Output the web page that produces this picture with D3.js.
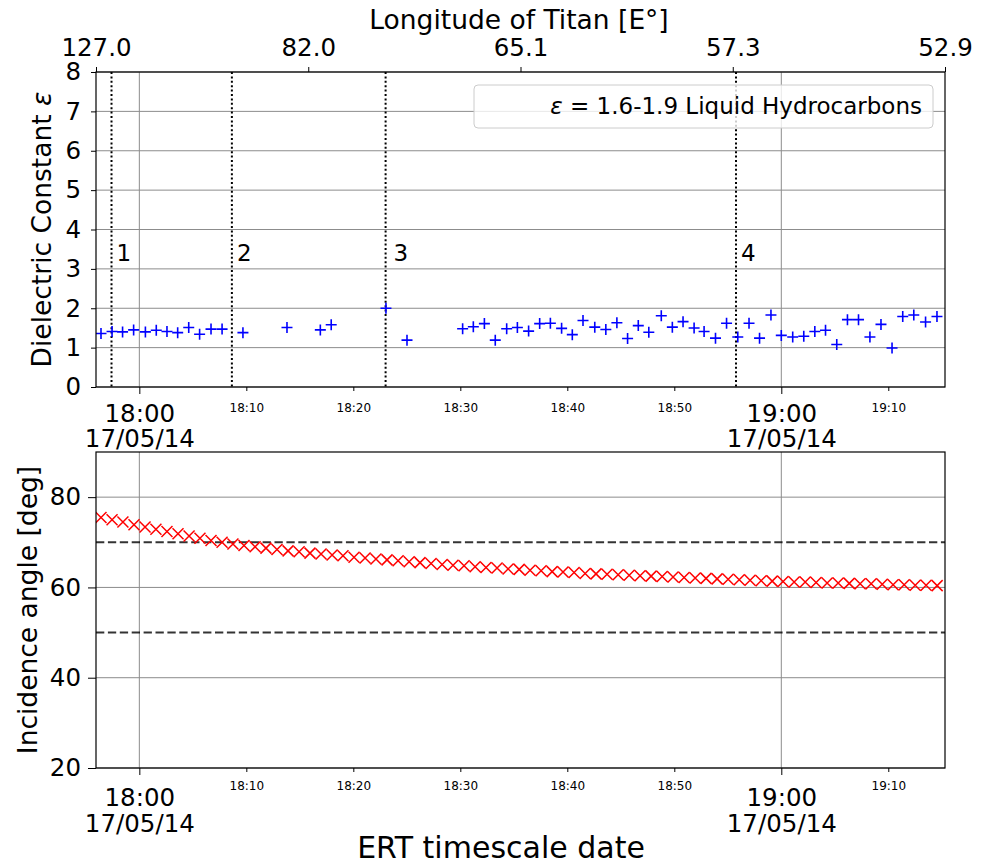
<!DOCTYPE html>
<html>
<head>
<meta charset="utf-8">
<script src="https://cdn.jsdelivr.net/npm/d3@7"></script>
<style>
  body { margin: 0; background: #fff; }
  text { font-family: "DejaVu Sans", sans-serif; fill: #000; }
</style>
</head>
<body>
<svg id="chart" width="986" height="864"></svg>
<script>
// ---- Observation data (ERT, 2014-05-17) ----
const day = "2014-05-17";

// Dielectric constant retrievals
const dielTimes = [
  "17:56:25","17:57:27","17:58:26","17:59:28","18:00:34","18:01:35","18:02:35","18:03:35",
  "18:04:37","18:05:38","18:06:42","18:07:44","18:09:41","18:13:48","18:16:55","18:17:56",
  "18:23:03","18:25:01","18:30:13","18:31:13","18:32:15","18:33:16","18:34:20","18:35:20",
  "18:36:23","18:37:25","18:38:25","18:39:28","18:40:28","18:41:28","18:42:34","18:43:36",
  "18:44:38","18:45:38","18:46:38","18:47:37","18:48:47","18:49:49","18:50:49","18:51:51",
  "18:52:47","18:53:51","18:54:53","18:55:56","18:56:59","18:57:58","18:59:02","19:00:00",
  "19:01:04","19:02:06","19:03:08","19:04:08","19:05:11","19:06:11","19:07:13","19:08:17",
  "19:09:19","19:10:21","19:11:21","19:12:23","19:13:29","19:14:33"
];
const dielValues = [
  1.36,1.41,1.40,1.45,1.40,1.44,1.41,1.38,
  1.51,1.34,1.47,1.47,1.38,1.51,1.45,1.58,
  2.00,1.19,1.48,1.53,1.61,1.19,1.48,1.51,
  1.42,1.61,1.62,1.49,1.33,1.69,1.52,1.46,
  1.63,1.23,1.56,1.39,1.81,1.52,1.66,1.50,
  1.41,1.24,1.62,1.27,1.62,1.24,1.83,1.31,
  1.27,1.29,1.41,1.44,1.08,1.71,1.71,1.27,
  1.59,0.99,1.79,1.83,1.65,1.79
];

// Incidence angle along the track
const incTimes = [
  "17:56:25","17:57:27","17:58:28","17:59:30","18:00:32","18:01:33","18:02:35","18:03:37",
  "18:04:39","18:05:40","18:06:42","18:07:44","18:08:45","18:09:47","18:10:49","18:11:50",
  "18:12:52","18:13:54","18:14:56","18:15:57","18:16:59","18:18:01","18:19:02","18:20:04",
  "18:21:06","18:22:07","18:23:09","18:24:11","18:25:13","18:26:14","18:27:16","18:28:18",
  "18:29:19","18:30:21","18:31:23","18:32:24","18:33:26","18:34:28","18:35:30","18:36:31",
  "18:37:33","18:38:35","18:39:36","18:40:38","18:41:40","18:42:41","18:43:43","18:44:45",
  "18:45:47","18:46:48","18:47:50","18:48:52","18:49:53","18:50:55","18:51:57","18:52:58",
  "18:54:00","18:55:02","18:56:04","18:57:05","18:58:07","18:59:09","19:00:10","19:01:12",
  "19:02:14","19:03:15","19:04:17","19:05:19","19:06:21","19:07:22","19:08:24","19:09:26",
  "19:10:27","19:11:29","19:12:31","19:13:32","19:14:34"
];
const incValues = [
  75.5,75.0,74.5,73.9,73.4,72.9,72.4,71.9,
  71.4,70.9,70.4,70.0,69.6,69.3,69.0,68.7,
  68.4,68.1,67.9,67.6,67.4,67.2,67.0,66.7,
  66.5,66.3,66.1,65.9,65.7,65.5,65.3,65.1,
  64.9,64.8,64.6,64.4,64.3,64.1,64.0,63.8,
  63.7,63.5,63.4,63.3,63.1,63.0,62.9,62.8,
  62.7,62.6,62.5,62.4,62.3,62.2,62.1,62.0,
  61.9,61.8,61.7,61.6,61.5,61.4,61.3,61.2,
  61.2,61.1,61.0,61.0,60.9,60.8,60.8,60.7,
  60.6,60.6,60.5,60.5,60.4
];

// Marked events along the track
const eventTimes = ["17:57:24","18:08:39","18:23:01","18:55:46"];
const eventLabels = ["1","2","3","4"];
const eventLabelLevel = 3.2;

// Axis ticks
const lonTickLabels = ["127.0","82.0","65.1","57.3","52.9"];
const majorTimes = ["18:00:00","19:00:00"];
const minorTimes = ["18:10:00","18:20:00","18:30:00","18:40:00","18:50:00","19:10:00"];
const timeExtent = ["17:55:57","19:15:18"];
const epsTicks = [0,1,2,3,4,5,6,7,8];
const incTicks = [20,40,60,80];
const incLimits = [70,50];
const epsDomain = [0,8];
const incDomain = [20,90];

// ---- Layout ----
const parse = d3.timeParse("%Y-%m-%d %H:%M:%S");
const T = s => parse(day + " " + s);
const L = 96, R = 945;
const top1 = 72, bot1 = 387;
const top2 = 452, bot2 = 768;
const gridColor = "#8c8c8c";
const tickFont = 24.5, legendFont = 23, labelFont = 26.5, minorFont = 12;

const svg = d3.select("#chart");
svg.append("rect").attr("width", 986).attr("height", 864).attr("fill", "#fff");

const x = d3.scaleTime().domain(timeExtent.map(T)).range([L, R]);
const yEps = d3.scaleLinear().domain(epsDomain).range([bot1, top1]);
const yInc = d3.scaleLinear().domain(incDomain).range([bot2, top2]);
const lon = d3.scalePoint().domain(lonTickLabels).range([L, R]).padding(0);

const defs = svg.append("defs");
defs.append("clipPath").attr("id", "clip1").append("rect")
  .attr("x", L).attr("y", top1).attr("width", R - L).attr("height", bot1 - top1);
defs.append("clipPath").attr("id", "clip2").append("rect")
  .attr("x", L).attr("y", top2).attr("width", R - L).attr("height", bot2 - top2);

function grid(yScale, yTicks, yTop, yBot) {
  const g = svg.append("g");
  g.selectAll(".gy").data(yTicks).join("line")
    .attr("x1", L).attr("x2", R)
    .attr("y1", d => yScale(d)).attr("y2", d => yScale(d))
    .attr("stroke", gridColor).attr("stroke-width", 1);
  g.selectAll(".gx").data(majorTimes.map(T)).join("line")
    .attr("x1", d => x(d)).attr("x2", d => x(d))
    .attr("y1", yTop).attr("y2", yBot)
    .attr("stroke", gridColor).attr("stroke-width", 1);
}

function timeAxis(yBase, minorY, majorY1, majorY2) {
  const g = svg.append("g").attr("transform", `translate(0,${yBase})`);
  const minor = d3.axisBottom(x).tickValues(minorTimes.map(T))
    .tickFormat(d3.timeFormat("%H:%M")).tickSize(4).tickSizeOuter(0);
  const gm = g.append("g").call(minor);
  gm.select(".domain").remove();
  gm.selectAll(".tick text").attr("y", minorY).attr("dy", 0)
    .style("font-size", minorFont + "px");
  const major = d3.axisBottom(x).tickValues(majorTimes.map(T))
    .tickFormat("").tickSize(7).tickSizeOuter(0);
  const gM = g.append("g").call(major);
  gM.select(".domain").remove();
  gM.selectAll(".tick").each(function (d) {
    const t = d3.select(this).append("text").attr("text-anchor", "middle")
      .style("font-size", tickFont + "px");
    t.append("tspan").attr("x", 0).attr("y", majorY1).text(d3.timeFormat("%H:%M")(d));
    t.append("tspan").attr("x", 0).attr("y", majorY2).text(d3.timeFormat("%d/%m/%y")(d));
  });
  g.selectAll("line").attr("stroke", "#000");
  g.selectAll("text").attr("fill", "#000");
}

function yAxis(yScale, ticks, tickLen) {
  const g = svg.append("g").attr("transform", `translate(${L},0)`)
    .call(d3.axisLeft(yScale).tickValues(ticks).tickSize(tickLen).tickPadding(15 - tickLen).tickSizeOuter(0));
  g.select(".domain").remove();
  g.selectAll(".tick text").style("font-size", tickFont + "px").attr("fill", "#000");
  g.selectAll(".tick line").attr("stroke", "#000");
}

function frame(yTop, yBot) {
  svg.append("rect").attr("x", L).attr("y", yTop).attr("width", R - L).attr("height", yBot - yTop)
    .attr("fill", "none").attr("stroke", "#000").attr("stroke-width", 1.2);
}

// ---- Upper panel: dielectric constant ----
grid(yEps, epsTicks, top1, bot1);

svg.append("g").selectAll("line").data(eventTimes.map(T)).join("line")
  .attr("x1", d => x(d)).attr("x2", d => x(d))
  .attr("y1", top1).attr("y2", bot1)
  .attr("stroke", "#000").attr("stroke-width", 2).attr("stroke-dasharray", "2,2.4");

svg.append("g").selectAll("text").data(eventTimes.map(T)).join("text")
  .attr("x", (d, i) => x(d) + (i === 2 ? 8 : 5)).attr("y", yEps(eventLabelLevel))
  .style("font-size", legendFont + "px")
  .text((d, i) => eventLabels[i]);

svg.append("g").attr("clip-path", "url(#clip1)")
  .selectAll("path").data(dielTimes.map((t, i) => [T(t), dielValues[i]])).join("path")
  .attr("transform", d => `translate(${x(d[0])},${yEps(d[1])})`)
  .attr("d", "M-5.5,0H5.5M0,-5.5V5.5")
  .attr("stroke", "#0000ff").attr("stroke-width", 1.6).attr("fill", "none");

// legend
const leg = svg.append("g");
leg.append("rect").attr("x", 474).attr("y", 85).attr("width", 459).attr("height", 43)
  .attr("rx", 4).attr("fill", "#fff").attr("fill-opacity", 0.8)
  .attr("stroke", "#cccccc").attr("stroke-width", 1);
const lt = leg.append("text").attr("x", 922).attr("y", 114).attr("text-anchor", "end")
  .style("font-size", legendFont + "px");
lt.append("tspan").style("font-style", "italic").text("ε");
lt.append("tspan").text(" = 1.6-1.9 Liquid Hydrocarbons");

frame(top1, bot1);
yAxis(yEps, epsTicks, 5);
timeAxis(bot1, 25, 35, 60);

// top longitude axis
const gLon = svg.append("g").attr("transform", `translate(0,${top1})`)
  .call(d3.axisTop(lon).tickSize(5).tickPadding(11).tickSizeOuter(0));
gLon.select(".domain").remove();
gLon.selectAll(".tick text").style("font-size", tickFont + "px").attr("fill", "#000");
gLon.selectAll(".tick line").attr("stroke", "#000");

svg.append("text").attr("x", 519).attr("y", 29).attr("text-anchor", "middle")
  .style("font-size", labelFont + "px").text("Longitude of Titan [E°]");

const epsLabel = svg.append("text")
  .attr("transform", `translate(51,${(top1 + bot1) / 2}) rotate(-90)`)
  .attr("text-anchor", "middle").style("font-size", labelFont + "px");
epsLabel.append("tspan").text("Dielectric Constant ");
epsLabel.append("tspan").style("font-style", "italic").text("ε");

// ---- Lower panel: incidence angle ----
grid(yInc, incTicks, top2, bot2);

svg.append("g").selectAll("line").data(incLimits).join("line")
  .attr("x1", L).attr("x2", R)
  .attr("y1", d => yInc(d)).attr("y2", d => yInc(d))
  .attr("stroke", "#000").attr("stroke-opacity", 0.8)
  .attr("stroke-width", 2).attr("stroke-dasharray", "8.3,3.6");

svg.append("g").attr("clip-path", "url(#clip2)")
  .selectAll("path").data(incTimes.map((t, i) => [T(t), incValues[i]])).join("path")
  .attr("transform", d => `translate(${x(d[0])},${yInc(d[1])})`)
  .attr("d", "M-5.5,-5.5L5.5,5.5M-5.5,5.5L5.5,-5.5")
  .attr("stroke", "#ff0000").attr("stroke-width", 1.5).attr("fill", "none");

frame(top2, bot2);
yAxis(yInc, incTicks, 8);
timeAxis(bot2, 22, 38, 64);

svg.append("text")
  .attr("transform", `translate(37,${(top2 + bot2) / 2}) rotate(-90)`)
  .attr("text-anchor", "middle").style("font-size", labelFont + "px")
  .text("Incidence angle [deg]");

svg.append("text").attr("x", 501).attr("y", 858).attr("text-anchor", "middle")
  .style("font-size", "30px").text("ERT timescale date");
</script>
</body>
</html>
